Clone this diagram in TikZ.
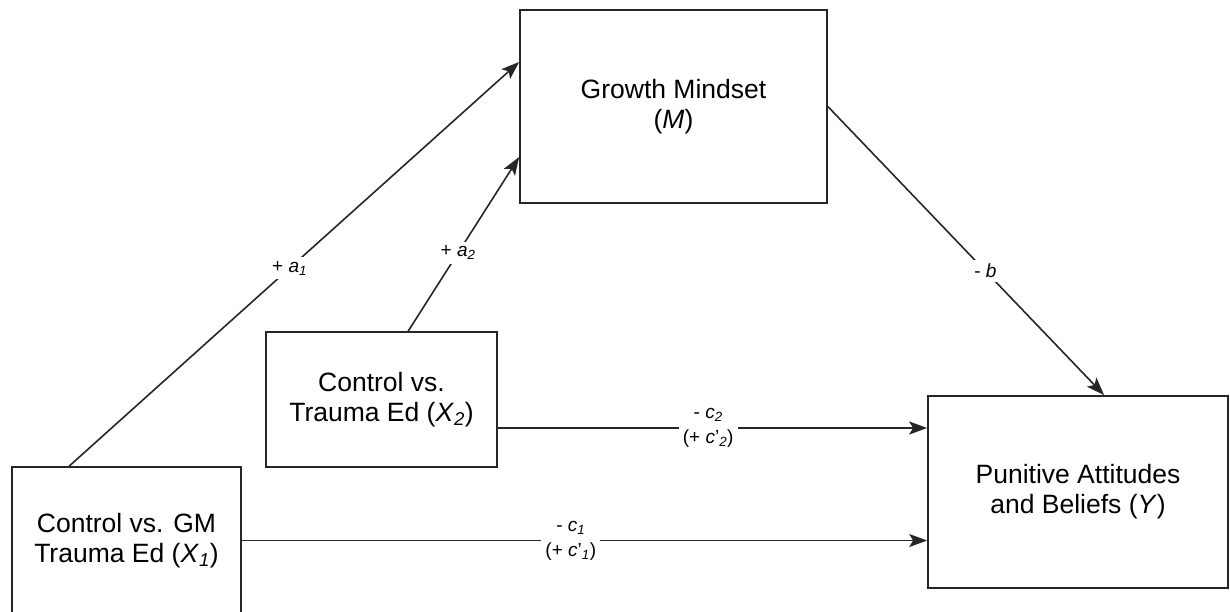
\documentclass[tikz,border=0pt]{standalone}
\usepackage{fontspec}
\setmainfont{Liberation Sans}
\usetikzlibrary{arrows.meta}
\newcommand{\vv}[2]{\textit{#1}\textsubscript{\textit{#2}}}
\begin{document}
\begin{tikzpicture}[x=1pt,y=-1pt,
  box/.style={draw=black!85, line width=1.7pt, fill=white, align=center, inner sep=0pt,
    font=\fontsize{26.5}{30}\selectfont},
  arr/.style={draw=black!85, line width=1.6pt, -{Stealth[length=18pt,width=13pt,inset=4pt]}},
  lab/.style={fill=white, inner sep=4pt, align=center, font=\fontsize{19}{25}\selectfont}]
\useasboundingbox (0,0) rectangle (1230,611);
\clip (0,0) rectangle (1230,611);
\node[box, minimum width=307pt, minimum height=193pt] (M) at (673.5,106.5) {Growth Mindset\\(\textit{M})};
\node[box, minimum width=231pt, minimum height=135pt] (X2) at (381.5,399.5) {Control vs.\\Trauma Ed (\vv{X}{2})};
\node[box, minimum width=229pt, minimum height=147pt] (X1) at (126.5,540.5) {Control vs. GM\\Trauma Ed (\vv{X}{1})};
\node[box, minimum width=300pt, minimum height=192pt] (Y) at (1078,492) {Punitive Attitudes\\and Beliefs (\textit{Y})};
\coordinate (p2) at ([yshift=-28.5pt]X2.east);
\draw[arr] ([xshift=58pt]X1.north west) -- node[lab, pos=0.49] {+ \vv{a}{1}} ([yshift=44.5pt]M.west);
\draw[arr] ([xshift=143pt]X2.north west) -- node[lab, pos=0.45] {+ \vv{a}{2}} ([yshift=-50.5pt]M.west);
\draw[arr] (M.east) -- node[lab, pos=0.57] {- \textit{b}} ([xshift=177pt]Y.north west);
\draw[arr] (p2) -- node[lab, pos=0.49] {- \vv{c}{2}\\(+ \textit{c}'\textsubscript{\textit{2}})} (p2 -| Y.west);
\draw[arr] (X1.east) -- node[lab, pos=0.48] {- \vv{c}{1}\\(+ \textit{c}'\textsubscript{\textit{1}})} (X1.east -| Y.west);
\end{tikzpicture}
\end{document}
